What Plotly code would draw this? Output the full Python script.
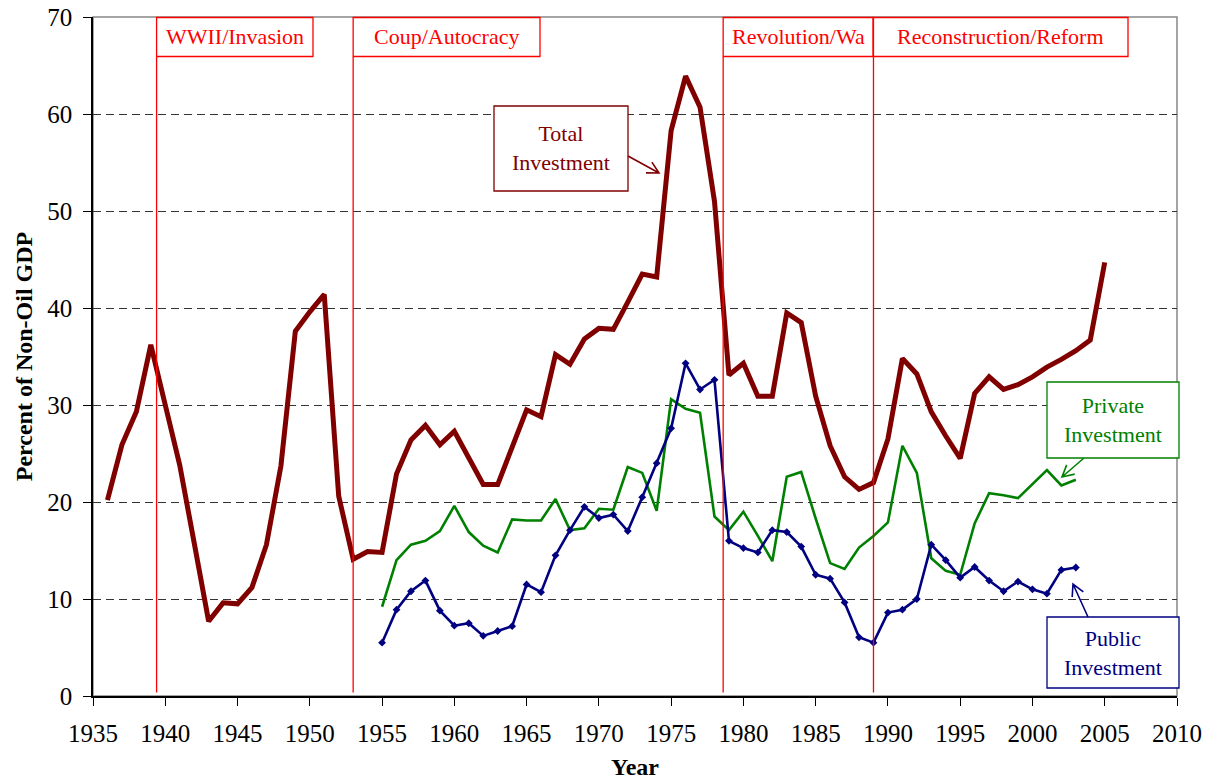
import math
import plotly.graph_objects as go

# ---------------- data ----------------
total_years = list(range(1936, 2006))
total_inv = [20.2, 25.9, 29.3, 36.2, 30.0, 23.8, 15.8, 7.7, 9.6, 9.5,
             11.2, 15.6, 23.7, 37.6, 39.6, 41.4, 20.6, 14.1, 14.9, 14.8,
             22.9, 26.4, 27.9, 25.9, 27.3, 24.5, 21.8, 21.8, 25.6, 29.5,
             28.8, 35.2, 34.2, 36.8, 37.9, 37.8, 40.6, 43.5, 43.2, 58.3,
             63.9, 60.7, 51.0, 33.1, 34.3, 30.9, 30.9, 39.5, 38.5, 30.9,
             25.8, 22.6, 21.3, 22.0, 26.5, 34.8, 33.2, 29.3, 26.8, 24.5,
             31.2, 32.9, 31.6, 32.1, 32.9, 33.9, 34.7, 35.6, 36.7, 44.7]

sub_years = list(range(1955, 2004))
private_inv = [9.2, 14.0, 15.6, 16.0, 17.0, 19.6, 16.9, 15.5, 14.8, 18.2,
               18.1, 18.1, 20.3, 17.1, 17.3, 19.3, 19.2, 23.6, 23.0, 19.1,
               30.6, 29.6, 29.2, 18.5, 17.1, 19.0, 16.5, 13.9, 22.6, 23.1,
               18.3, 13.7, 13.1, 15.3, 16.5, 17.9, 25.8, 23.0, 14.2, 12.9,
               12.5, 17.8, 20.9, 20.7, 20.4, 21.8, 23.3, 21.7, 22.3]
public_inv = [5.5, 8.9, 10.8, 11.9, 8.8, 7.25, 7.5, 6.2, 6.7, 7.2,
              11.5, 10.7, 14.5, 17.1, 19.5, 18.35, 18.7, 17.0, 20.5, 24.0,
              27.6, 34.3, 31.6, 32.6, 16.0, 15.25, 14.8, 17.1, 16.9, 15.4,
              12.5, 12.1, 9.65, 6.05, 5.5, 8.6, 8.9, 10.0, 15.6, 14.0,
              12.2, 13.3, 11.9, 10.8, 11.8, 11.0, 10.55, 13.0, 13.25]

period_labels = ["WWII/Invasion", "Coup/Autocracy", "Revolution/Wa", "Reconstruction/Reform"]
period_starts = [1939.4, 1953.0, 1978.6, 1989.0]

x_ticks = list(range(1935, 2011, 5))
y_ticks = list(range(0, 71, 10))

# ---------------- layout helpers ----------------
W, H = 1213, 783
ML, MR, MT, MB = 93, 36, 17, 87
PX0, PX1 = ML, W - MR
PY0, PY1 = H - MB, MT  # bottom, top


def px(x):
    return (x - PX0) / (PX1 - PX0)


def py(y):
    return (PY0 - y) / (PY0 - PY1)


SERIF = "Liberation Serif, Times New Roman, serif"
DARKRED = "#800000"
GREEN = "#008000"
NAVY = "#000080"
RED = "#FF0000"

fig = go.Figure()

fig.add_trace(go.Scatter(x=sub_years, y=private_inv, mode="lines",
                         line=dict(color=GREEN, width=2.6), name="Private Investment"))
fig.add_trace(go.Scatter(x=sub_years, y=public_inv, mode="lines+markers",
                         line=dict(color=NAVY, width=2.6),
                         marker=dict(symbol="diamond", size=6, color=NAVY),
                         name="Public Investment"))
fig.add_trace(go.Scatter(x=total_years, y=total_inv, mode="lines",
                         line=dict(color=DARKRED, width=5), name="Total Investment"))

shapes = []
annotations = []

# plot border (gray top/right)
shapes.append(dict(type="rect", xref="paper", yref="paper", x0=0, x1=1, y0=0, y1=1,
                   line=dict(color="#888888", width=1.5), layer="below"))

# period vertical lines and label boxes
box_right = [313, 540, 873, 1128]
for lab, start, right in zip(period_labels, period_starts, box_right):
    shapes.append(dict(type="line", xref="x", yref="y", x0=start, x1=start,
                       y0=0.35, y1=(PY0 - 57) / 9.7,
                       line=dict(color=RED, width=1.3)))
    left_px = PX0 + (start - 1935) * (PX1 - PX0) / 75
    shapes.append(dict(type="rect", xref="paper", yref="paper",
                       x0=px(left_px), x1=px(right), y0=py(56.5), y1=py(17.5),
                       line=dict(color=RED, width=1.3), fillcolor="white"))
    annotations.append(dict(xref="paper", yref="paper", x=px((left_px + right) / 2), y=py(36),
                            xanchor="center", yanchor="middle",
                            text=lab, showarrow=False,
                            font=dict(family=SERIF, size=22, color=RED)))


# callout boxes
def callout(x0, y0, x1, y1, lines, color, tail, head):
    shapes.append(dict(type="rect", xref="paper", yref="paper",
                       x0=px(x0), x1=px(x1), y0=py(y1), y1=py(y0),
                       line=dict(color=color, width=1.3), fillcolor="white"))
    annotations.append(dict(xref="paper", yref="paper", x=px((x0 + x1) / 2), y=py((y0 + y1) / 2),
                            xanchor="center", yanchor="middle",
                            text="<br>".join(lines), showarrow=False, align="center",
                            font=dict(family=SERIF, size=22, color=color)))
    tx, ty = tail
    hx, hy = head
    ang = math.atan2(ty - hy, tx - hx)
    L = 13
    spread = math.radians(28)
    a1 = (hx + L * math.cos(ang + spread), hy + L * math.sin(ang + spread))
    a2 = (hx + L * math.cos(ang - spread), hy + L * math.sin(ang - spread))
    path = (f"M {px(tx)},{py(ty)} L {px(hx)},{py(hy)} "
            f"M {px(a1[0])},{py(a1[1])} L {px(hx)},{py(hy)} L {px(a2[0])},{py(a2[1])}")
    shapes.append(dict(type="path", xref="paper", yref="paper", path=path,
                       line=dict(color=color, width=1.6)))


callout(494, 106, 628, 191, ["Total", "Investment"], DARKRED, (628, 156), (659, 173))
callout(1047, 382, 1179, 458, ["Private", "Investment"], GREEN, (1084, 458), (1062, 477))
callout(1047, 617, 1179, 688, ["Public", "Investment"], NAVY, (1088, 617), (1073, 584))

fig.update_layout(
    width=W, height=H,
    margin=dict(l=ML, r=MR, t=MT, b=MB, autoexpand=False),
    paper_bgcolor="white", plot_bgcolor="white",
    showlegend=False,
    shapes=shapes,
    annotations=annotations,
    font=dict(family=SERIF, color="black"),
    xaxis=dict(range=[1935, 2010], tickvals=x_ticks, ticks="outside", ticklen=8,
               tickcolor="black", showline=True, linecolor="black", linewidth=1.5,
               showgrid=False, zeroline=False, ticklabelstandoff=6,
               tickfont=dict(family=SERIF, size=25, color="black"),
               title=dict(text="<b>Year</b>", font=dict(family=SERIF, size=24, color="black"),
                          standoff=12)),
    yaxis=dict(range=[0, 70], tickvals=y_ticks, ticks="outside", ticklen=8,
               tickcolor="black", showline=True, linecolor="black", linewidth=1.5,
               showgrid=True, gridcolor="#333333", gridwidth=1, griddash="8px,5px",
               zeroline=False, ticklabelstandoff=6,
               tickfont=dict(family=SERIF, size=25, color="black"),
               title=dict(text="<b>Percent of Non-Oil GDP</b>",
                          font=dict(family=SERIF, size=24, color="black"), standoff=8)),
)

fig.write_html("out.html", config={"displayModeBar": False},
               post_script="document.body.style.margin='0px';")
